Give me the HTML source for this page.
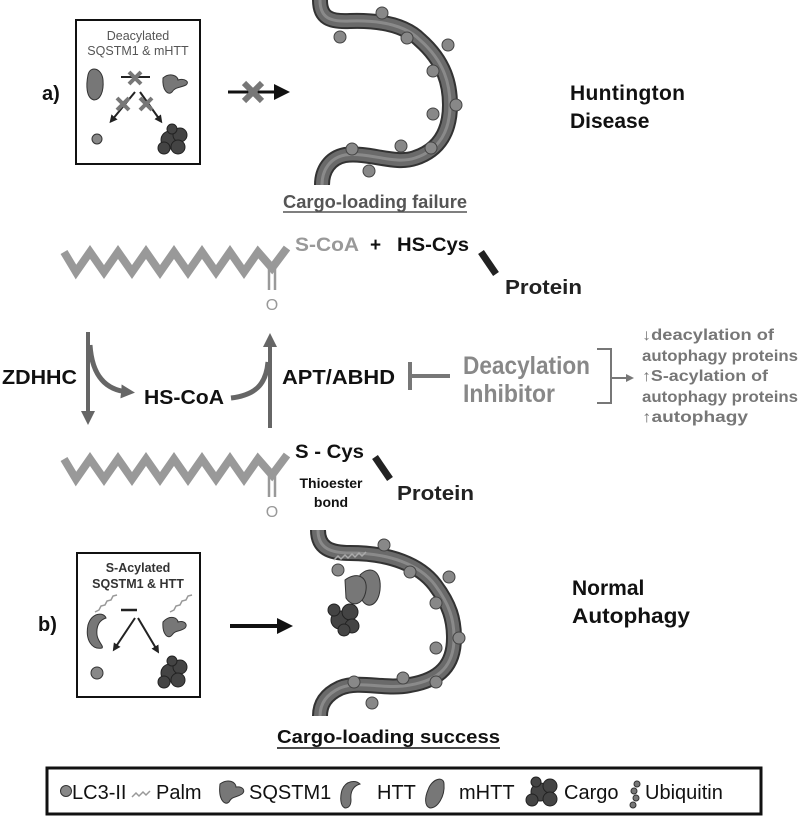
<!DOCTYPE html>
<html><head><meta charset="utf-8"><style>
html,body{margin:0;padding:0;background:#fff;}
svg{display:block;font-family:"Liberation Sans",sans-serif;}
</style></head><body>
<svg width="800" height="819" viewBox="0 0 800 819" xmlns="http://www.w3.org/2000/svg">
<defs>
<marker id="ah" markerWidth="8" markerHeight="8" refX="4" refY="4" orient="auto" markerUnits="userSpaceOnUse"><path d="M0,0 L8,4 L0,8 z" fill="#222"/></marker>
<marker id="ag" markerWidth="14" markerHeight="14" refX="7" refY="7" orient="auto" markerUnits="userSpaceOnUse"><path d="M0,0 L14,7 L0,14 z" fill="#666"/></marker>
<marker id="ab" markerWidth="16" markerHeight="16" refX="8" refY="8" orient="auto" markerUnits="userSpaceOnUse"><path d="M0,0 L16,8 L0,16 z" fill="#111"/></marker>
<marker id="as" markerWidth="8" markerHeight="8" refX="4" refY="4" orient="auto" markerUnits="userSpaceOnUse"><path d="M0,0 L8,4 L0,8 z" fill="#777"/></marker>
</defs>

<!-- Panel a -->
<text x="42" y="100" font-size="20" font-weight="bold" fill="#111">a)</text>
<rect x="76" y="20" width="124" height="144" fill="#fff" stroke="#111" stroke-width="2"/>
<text x="138" y="40" font-size="12.5" text-anchor="middle" fill="#555">Deacylated</text>
<text x="138" y="55" font-size="12.5" text-anchor="middle" fill="#555">SQSTM1 &amp; mHTT</text>
<path d="M88,75 C90,65 102,68 103,80 C104,92 100,100 94,100 C86,98 86,85 88,75z" fill="#777" stroke="#333" stroke-width="1"/>
<path d="M163,78 C170,72 178,76 178,80 C185,78 190,82 186,85 C180,88 175,87 172,92 C168,96 162,90 163,78z" fill="#777" stroke="#333" stroke-width="1"/>
<line x1="121" y1="77" x2="150" y2="77" stroke="#222" stroke-width="2"/>
<path d="M129,72 L141,84 M141,72 L129,84" stroke="#777" stroke-width="4"/>
<line x1="135" y1="92" x2="112" y2="120" stroke="#222" stroke-width="2" marker-end="url(#ah)"/>
<line x1="140" y1="92" x2="160" y2="120" stroke="#222" stroke-width="2" marker-end="url(#ah)"/>
<path d="M117,98 L129,110 M129,98 L117,110 M140,98 L152,110 M152,98 L140,110" stroke="#777" stroke-width="4"/>
<circle cx="97" cy="139" r="5" fill="#888" stroke="#333"/>
<g fill="#444" stroke="#222"><circle cx="170" cy="140" r="9"/><circle cx="180" cy="135" r="7"/><circle cx="178" cy="147" r="7"/><circle cx="164" cy="148" r="6"/><circle cx="172" cy="129" r="5"/></g>
<line x1="228" y1="92" x2="282" y2="92" stroke="#111" stroke-width="3" marker-end="url(#ab)"/>
<path d="M244,83 L262,101 M262,83 L244,101" stroke="#777" stroke-width="6"/>

<!-- top phagophore -->
<g>
<path d="M320,0 C320,18 330,22 350,21 C380,20 405,25 420,40 C445,62 450,85 450,105 C450,130 440,150 415,158 C395,165 370,152 345,155 C330,158 322,170 322,185" fill="none" stroke="#333" stroke-width="16"/>
<path d="M320,0 C320,18 330,22 350,21 C380,20 405,25 420,40 C445,62 450,85 450,105 C450,130 440,150 415,158 C395,165 370,152 345,155 C330,158 322,170 322,185" fill="none" stroke="#6a6a6a" stroke-width="12"/>
<path d="M320,0 C320,18 330,22 350,21 C380,20 405,25 420,40 C445,62 450,85 450,105 C450,130 440,150 415,158 C395,165 370,152 345,155 C330,158 322,170 322,185" fill="none" stroke="#8a8a8a" stroke-width="3"/>
<g fill="#888" stroke="#444" stroke-width="1"><circle cx="340" cy="37" r="6"/><circle cx="382" cy="13" r="6"/><circle cx="407" cy="38" r="6"/><circle cx="448" cy="45" r="6"/><circle cx="433" cy="71" r="6"/><circle cx="456" cy="105" r="6"/><circle cx="433" cy="114" r="6"/><circle cx="401" cy="146" r="6"/><circle cx="352" cy="149" r="6"/><circle cx="431" cy="148" r="6"/><circle cx="369" cy="171" r="6"/></g>
</g>
<text x="570" y="100" font-size="21" font-weight="bold" fill="#111" textLength="115">Huntington</text>
<text x="570" y="128" font-size="21" font-weight="bold" fill="#111">Disease</text>
<text x="283" y="208" font-size="18" font-weight="bold" fill="#555" textLength="184" lengthAdjust="spacingAndGlyphs">Cargo-loading failure</text>
<line x1="283" y1="212" x2="467" y2="212" stroke="#555" stroke-width="1.5"/>

<!-- top fatty acid -->
<polyline points="64,252 76,272 90,252 104,272 118,252 132,272 146,252 160,272 174,252 188,272 202,252 216,272 230,252 244,272 258,252 272,268 287,248" fill="none" stroke="#999" stroke-width="8"/>
<line x1="269" y1="268" x2="269" y2="290" stroke="#999" stroke-width="2.5"/>
<line x1="275" y1="268" x2="275" y2="290" stroke="#999" stroke-width="2.5"/>
<text x="272" y="310" font-size="16" fill="#999" text-anchor="middle">O</text>
<text x="295" y="251" font-size="19" font-weight="bold" fill="#999" textLength="64" lengthAdjust="spacingAndGlyphs">S-CoA</text>
<text x="370" y="251" font-size="19" font-weight="bold" fill="#111">+</text>
<text x="397" y="251" font-size="19" font-weight="bold" fill="#111" textLength="72" lengthAdjust="spacingAndGlyphs">HS-Cys</text>
<line x1="481" y1="252" x2="496" y2="274" stroke="#222" stroke-width="7"/>
<text x="505" y="294" font-size="20" font-weight="bold" fill="#222" textLength="77" lengthAdjust="spacingAndGlyphs">Protein</text>

<!-- middle -->
<text x="2" y="384" font-size="20" font-weight="bold" fill="#111" textLength="75" lengthAdjust="spacingAndGlyphs">ZDHHC</text>
<line x1="88" y1="332" x2="88" y2="418" stroke="#666" stroke-width="4" marker-end="url(#ag)"/>
<path d="M90,345 C92,375 105,390 128,392" fill="none" stroke="#666" stroke-width="5" marker-end="url(#ag)"/>
<text x="144" y="404" font-size="20" font-weight="bold" fill="#111" textLength="80" lengthAdjust="spacingAndGlyphs">HS-CoA</text>
<path d="M231,398 C255,395 266,385 268,362" fill="none" stroke="#666" stroke-width="5"/>
<line x1="270" y1="428" x2="270" y2="340" stroke="#666" stroke-width="4" marker-end="url(#ag)"/>
<text x="282" y="384" font-size="20" font-weight="bold" fill="#111" textLength="113" lengthAdjust="spacingAndGlyphs">APT/ABHD</text>
<line x1="410" y1="362" x2="410" y2="390" stroke="#777" stroke-width="4"/>
<line x1="410" y1="376" x2="450" y2="376" stroke="#777" stroke-width="4"/>
<text x="463" y="374" font-size="25" font-weight="bold" fill="#888" textLength="127" lengthAdjust="spacingAndGlyphs">Deacylation</text>
<text x="463" y="402" font-size="25" font-weight="bold" fill="#888" textLength="92" lengthAdjust="spacingAndGlyphs">Inhibitor</text>
<polyline points="597,349 611,349 611,403 597,403" fill="none" stroke="#777" stroke-width="2"/>
<line x1="611" y1="378" x2="630" y2="378" stroke="#777" stroke-width="2" marker-end="url(#as)"/>
<g font-size="15.5" font-weight="bold" fill="#777">
<text x="642" y="340" textLength="132" lengthAdjust="spacingAndGlyphs">↓deacylation of</text>
<text x="642" y="361" textLength="156" lengthAdjust="spacingAndGlyphs">autophagy proteins</text>
<text x="642" y="381" textLength="126" lengthAdjust="spacingAndGlyphs">↑S-acylation of</text>
<text x="642" y="402" textLength="156" lengthAdjust="spacingAndGlyphs">autophagy proteins</text>
<text x="642" y="422" textLength="106" lengthAdjust="spacingAndGlyphs">↑autophagy</text>
</g>

<!-- bottom fatty acid -->
<polyline points="64,459 76,479 90,459 104,479 118,459 132,479 146,459 160,479 174,459 188,479 202,459 216,479 230,459 244,479 258,459 272,475 287,455" fill="none" stroke="#999" stroke-width="8"/>
<line x1="269" y1="475" x2="269" y2="497" stroke="#999" stroke-width="2.5"/>
<line x1="275" y1="475" x2="275" y2="497" stroke="#999" stroke-width="2.5"/>
<text x="272" y="517" font-size="16" fill="#999" text-anchor="middle">O</text>
<text x="295" y="458" font-size="19" font-weight="bold" fill="#111" textLength="69" lengthAdjust="spacingAndGlyphs">S - Cys</text>
<text x="331" y="488" font-size="14" font-weight="bold" fill="#111" text-anchor="middle">Thioester</text>
<text x="331" y="507" font-size="14" font-weight="bold" fill="#111" text-anchor="middle">bond</text>
<line x1="375" y1="457" x2="390" y2="479" stroke="#222" stroke-width="7"/>
<text x="397" y="500" font-size="20" font-weight="bold" fill="#222" textLength="77" lengthAdjust="spacingAndGlyphs">Protein</text>

<!-- Panel b -->
<text x="38" y="631" font-size="20" font-weight="bold" fill="#111">b)</text>
<rect x="77" y="553" width="123" height="144" fill="#fff" stroke="#111" stroke-width="2"/>
<text x="138" y="572" font-size="12.5" font-weight="bold" text-anchor="middle" fill="#333">S-Acylated</text>
<text x="138" y="588" font-size="12.5" font-weight="bold" text-anchor="middle" fill="#333">SQSTM1 &amp; HTT</text>
<path d="M95,612 l4,-2 l2,-4 l4,-1 l2,-4 l4,-1 l2,-4 l4,-1" fill="none" stroke="#999" stroke-width="1.5"/>
<path d="M170,612 l4,-2 l2,-4 l4,-1 l2,-4 l4,-1 l2,-4 l4,-1" fill="none" stroke="#999" stroke-width="1.5"/>
<path d="M88,625 C92,612 104,612 106,618 C100,620 96,625 97,635 C98,642 104,646 102,648 C92,650 85,640 88,625z" fill="#777" stroke="#333"/>
<path d="M163,622 C170,614 178,618 178,622 C185,620 188,625 185,628 C180,632 175,630 172,635 C168,640 162,634 163,622z" fill="#777" stroke="#333"/>
<line x1="121" y1="610" x2="137" y2="610" stroke="#222" stroke-width="2.5"/>
<line x1="135" y1="618" x2="115" y2="648" stroke="#222" stroke-width="2" marker-end="url(#ah)"/>
<line x1="138" y1="618" x2="157" y2="650" stroke="#222" stroke-width="2" marker-end="url(#ah)"/>
<circle cx="97" cy="673" r="6" fill="#888" stroke="#333"/>
<g fill="#444" stroke="#222"><circle cx="170" cy="673" r="9"/><circle cx="180" cy="667" r="7"/><circle cx="178" cy="680" r="7"/><circle cx="164" cy="682" r="6"/><circle cx="172" cy="661" r="5"/></g>
<line x1="230" y1="626" x2="285" y2="626" stroke="#111" stroke-width="4" marker-end="url(#ab)"/>

<!-- bottom phagophore -->
<path d="M318,530 C318,548 330,553 350,553 C390,553 420,565 435,585 C450,605 454,620 454,638 C454,665 440,680 410,685 C385,690 360,680 340,688 C325,695 320,705 320,716" fill="none" stroke="#333" stroke-width="16"/>
<path d="M318,530 C318,548 330,553 350,553 C390,553 420,565 435,585 C450,605 454,620 454,638 C454,665 440,680 410,685 C385,690 360,680 340,688 C325,695 320,705 320,716" fill="none" stroke="#6a6a6a" stroke-width="12"/>
<path d="M318,530 C318,548 330,553 350,553 C390,553 420,565 435,585 C450,605 454,620 454,638 C454,665 440,680 410,685 C385,690 360,680 340,688 C325,695 320,705 320,716" fill="none" stroke="#8a8a8a" stroke-width="3"/>
<path d="M334,560 l4,-4 l3,3 l4,-4 l3,3 l4,-4 l3,3 l4,-4 l3,3 l4,-4" fill="none" stroke="#aaa" stroke-width="1.5"/>
<g fill="#888" stroke="#444" stroke-width="1"><circle cx="384" cy="545" r="6"/><circle cx="338" cy="570" r="6"/><circle cx="410" cy="572" r="6"/><circle cx="449" cy="577" r="6"/><circle cx="436" cy="603" r="6"/><circle cx="459" cy="638" r="6"/><circle cx="436" cy="648" r="6"/><circle cx="403" cy="678" r="6"/><circle cx="436" cy="682" r="6"/><circle cx="354" cy="682" r="6"/><circle cx="372" cy="703" r="6"/></g>
<path d="M360,575 C370,565 382,570 380,590 C378,605 368,610 362,600z" fill="#777" stroke="#333"/>
<path d="M345,580 C355,572 368,575 366,590 C364,605 352,608 346,598z" fill="#777" stroke="#333"/>
<g fill="#444" stroke="#222"><circle cx="340" cy="620" r="9"/><circle cx="350" cy="612" r="8"/><circle cx="352" cy="626" r="7"/><circle cx="334" cy="610" r="6"/><circle cx="344" cy="630" r="6"/></g>
<text x="572" y="595" font-size="21" font-weight="bold" fill="#111">Normal</text>
<text x="572" y="623" font-size="21" font-weight="bold" fill="#111" textLength="118" lengthAdjust="spacingAndGlyphs">Autophagy</text>
<text x="277" y="743" font-size="18" font-weight="bold" fill="#111" textLength="223" lengthAdjust="spacingAndGlyphs">Cargo-loading success</text>
<line x1="277" y1="748" x2="500" y2="748" stroke="#111" stroke-width="1.5"/>

<!-- Legend -->
<rect x="47" y="768" width="714" height="46" fill="#fff" stroke="#111" stroke-width="3"/>
<g font-size="20" fill="#111">
<circle cx="66" cy="791" r="5.5" fill="#888" stroke="#333"/>
<text x="72" y="799">LC3-II</text>
<path d="M132,797 l4,-4 l3,3 l4,-4 l3,3 l4,-4" fill="none" stroke="#999" stroke-width="1.5"/>
<text x="156" y="799">Palm</text>
<path d="M220,784 C228,778 236,782 236,787 C243,786 246,791 242,794 C236,798 232,796 229,802 C225,806 218,800 220,784z" fill="#777" stroke="#333"/>
<text x="249" y="799">SQSTM1</text>
<path d="M342,790 C346,780 356,780 360,784 C353,786 350,792 351,800 C351,806 348,808 345,808 C340,806 340,797 342,790z" fill="#777" stroke="#333"/>
<text x="377" y="799">HTT</text>
<path d="M428,790 C432,778 444,776 444,784 C445,796 438,808 430,808 C424,806 425,797 428,790z" fill="#777" stroke="#333"/>
<text x="459" y="799">mHTT</text>
<g fill="#444" stroke="#222"><circle cx="540" cy="792" r="9"/><circle cx="550" cy="786" r="7"/><circle cx="550" cy="799" r="7"/><circle cx="532" cy="800" r="6"/><circle cx="536" cy="782" r="5"/></g>
<text x="564" y="799">Cargo</text>
<g fill="#777" stroke="#333"><circle cx="637" cy="784" r="3"/><circle cx="634" cy="791" r="3"/><circle cx="636" cy="798" r="3"/><circle cx="633" cy="805" r="3"/></g>
<text x="645" y="799">Ubiquitin</text>
</g>
</svg>
</body></html>
